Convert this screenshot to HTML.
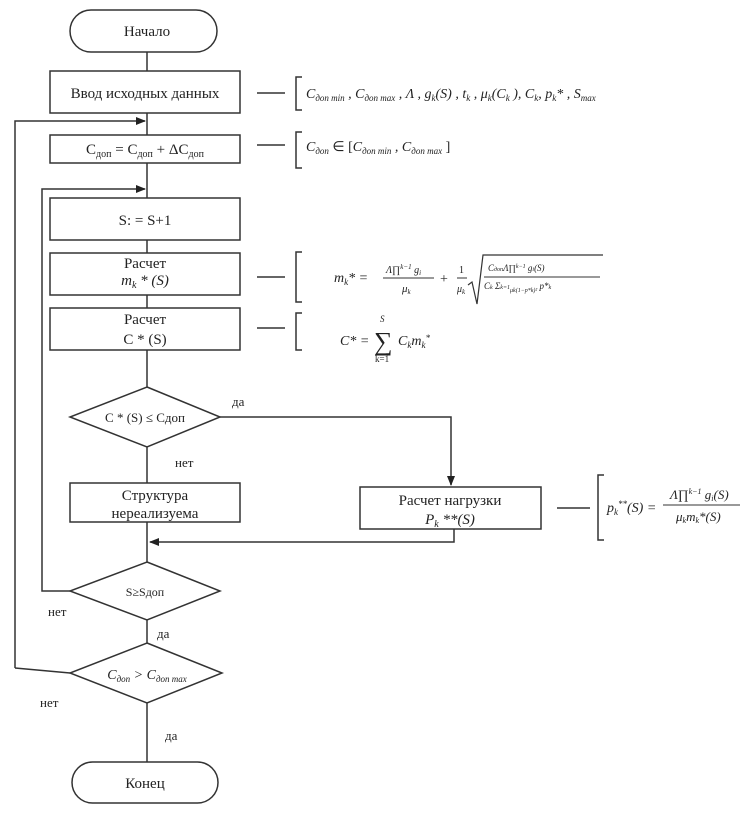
<!DOCTYPE html>
<html><head><meta charset="utf-8"><style>
body{margin:0;background:#fff}
svg text{font-family:"Liberation Serif",serif;fill:#222}
.i{font-style:italic}
</style></head><body>
<svg width="745" height="808" viewBox="0 0 745 808" xmlns="http://www.w3.org/2000/svg">
<defs><marker id="a" markerWidth="10" markerHeight="8" refX="9" refY="4" orient="auto" markerUnits="userSpaceOnUse"><path d="M0,0 L10,4 L0,8 z" fill="#222"/></marker></defs>
<g stroke="#333" stroke-width="1.5" fill="none">
<rect x="70" y="10" width="147" height="42" rx="21"/>
<line x1="147" y1="52" x2="147" y2="71"/>
<rect x="50" y="71" width="190" height="42"/>
<line x1="147" y1="113" x2="147" y2="135"/>
<polyline points="15,668 15,121 145,121" marker-end="url(#a)"/>
<rect x="50" y="135" width="190" height="28"/>
<line x1="147" y1="163" x2="147" y2="198"/>
<polyline points="70,591 42,591 42,189 145,189" marker-end="url(#a)"/>
<rect x="50" y="198" width="190" height="42"/>
<line x1="147" y1="240" x2="147" y2="253"/>
<rect x="50" y="253" width="190" height="42"/>
<line x1="147" y1="295" x2="147" y2="308"/>
<rect x="50" y="308" width="190" height="42"/>
<line x1="147" y1="350" x2="147" y2="387"/>
<polygon points="147,387 220,417 147,447 70,417"/>
<polyline points="220,417 451,417 451,485" marker-end="url(#a)"/>
<line x1="147" y1="447" x2="147" y2="483"/>
<rect x="70" y="483" width="170" height="39"/>
<rect x="360" y="487" width="181" height="42"/>
<line x1="147" y1="522" x2="147" y2="562"/>
<polyline points="454,529 454,542 150,542" marker-end="url(#a)"/>
<polygon points="147,562 220,591 147,620 70,591"/>
<line x1="147" y1="620" x2="147" y2="643"/>
<polygon points="147,643 222,673 147,703 70,673"/>
<line x1="70" y1="673" x2="15" y2="668"/>
<line x1="147" y1="703" x2="147" y2="762"/>
<rect x="72" y="762" width="146" height="41" rx="20.5"/>
<line x1="257" y1="93" x2="285" y2="93"/>
<polyline points="302,77 296,77 296,110 302,110"/>
<line x1="257" y1="145" x2="285" y2="145"/>
<polyline points="302,132 296,132 296,168 302,168"/>
<line x1="257" y1="277" x2="285" y2="277"/>
<polyline points="302,252 296,252 296,302 302,302"/>
<line x1="257" y1="328" x2="285" y2="328"/>
<polyline points="302,313 296,313 296,350 302,350"/>
<line x1="557" y1="508" x2="590" y2="508"/>
<polyline points="604,475 598,475 598,540 604,540"/>
<polyline points="468,285 472,282 477,304 483,255 603,255" stroke-width="1.2"/>
<line x1="484" y1="277" x2="600" y2="277" stroke-width="1"/>
<line x1="383" y1="278" x2="434" y2="278" stroke-width="1"/>
<line x1="457" y1="278" x2="467" y2="278" stroke-width="1"/>
<line x1="663" y1="505" x2="740" y2="505" stroke-width="1"/>
</g>
<g font-size="15" text-anchor="middle">
<text x="147" y="36">Начало</text>
<text x="145" y="98">Ввод исходных данных</text>
<text x="145" y="154">С<tspan font-size="10" dy="3">доп</tspan><tspan dy="-3"> = С</tspan><tspan font-size="10" dy="3">доп</tspan><tspan dy="-3"> + ΔС</tspan><tspan font-size="10" dy="3">доп</tspan></text>
<text x="145" y="225">S: = S+1</text>
<text x="145" y="268">Расчет</text>
<text x="145" y="285" class="i">m<tspan font-size="10" dy="3">k</tspan><tspan dy="-3"> * (S)</tspan></text>
<text x="145" y="324">Расчет</text>
<text x="145" y="344">C * (S)</text>
<text x="145" y="422" font-size="13">C * (S) ≤ Cдоп</text>
<text x="155" y="500">Структура</text>
<text x="155" y="518">нереализуема</text>
<text x="450" y="505">Расчет нагрузки</text>
<text x="450" y="524" class="i">P<tspan font-size="10" dy="3">k</tspan><tspan dy="-3"> **(S)</tspan></text>
<text x="145" y="596" font-size="12">S≥Sдоп</text>
<text x="147" y="679" font-size="14" class="i">C<tspan font-size="9" dy="3">доп</tspan><tspan dy="-3"> &gt; C</tspan><tspan font-size="9" dy="3">доп max</tspan></text>
<text x="145" y="788">Конец</text>
</g>
<g font-size="13">
<text x="232" y="406">да</text>
<text x="175" y="467">нет</text>
<text x="48" y="616">нет</text>
<text x="157" y="638">да</text>
<text x="40" y="707">нет</text>
<text x="165" y="740">да</text>
</g>
<g font-size="14" class="i">
<text x="306" y="98">C<tspan font-size="9" dy="3">доп min</tspan><tspan dy="-3"> , C</tspan><tspan font-size="9" dy="3">доп max</tspan><tspan dy="-3"> , Λ , g</tspan><tspan font-size="9" dy="3">k</tspan><tspan dy="-3">(S) , t</tspan><tspan font-size="9" dy="3">k</tspan><tspan dy="-3"> , μ</tspan><tspan font-size="9" dy="3">k</tspan><tspan dy="-3">(C</tspan><tspan font-size="9" dy="3">k</tspan><tspan dy="-3"> ), C</tspan><tspan font-size="9" dy="3">k</tspan><tspan dy="-3">, p</tspan><tspan font-size="9" dy="3">k</tspan><tspan dy="-3">* , S</tspan><tspan font-size="9" dy="3">max</tspan></text>
<text x="306" y="151">C<tspan font-size="9" dy="3">доп</tspan><tspan dy="-3" font-style="normal"> ∈ [</tspan><tspan>C</tspan><tspan font-size="9" dy="3">доп min</tspan><tspan dy="-3"> , C</tspan><tspan font-size="9" dy="3">доп max</tspan><tspan dy="-3" font-style="normal"> ]</tspan></text>
<text x="334" y="282">m<tspan font-size="9" dy="3">k</tspan><tspan dy="-3">* =</tspan></text>
<text x="386" y="273" font-size="10">Λ∏<tspan font-size="7" dy="-4">k−1</tspan><tspan dy="4"> g</tspan><tspan font-size="7" dy="2">i</tspan></text>
<text x="402" y="292" font-size="11">μ<tspan font-size="7" dy="2">k</tspan></text>
<text x="440" y="283" font-style="normal">+</text>
<text x="459" y="273" font-size="10" font-style="normal">1</text>
<text x="457" y="292" font-size="10">μ<tspan font-size="7" dy="2">k</tspan></text>
<text x="488" y="271" font-size="9">C<tspan font-size="6">доп</tspan>Λ∏<tspan font-size="6" dy="-3">k−1</tspan><tspan dy="3"> g</tspan><tspan font-size="6">i</tspan>(S)</text>
<text x="484" y="289" font-size="9">C<tspan font-size="6">k</tspan> Σ<tspan font-size="6">k=1</tspan><tspan font-size="6" dy="3">μk(1−p*k)²</tspan><tspan dy="-3"> p*</tspan><tspan font-size="6">k</tspan></text>
<text x="340" y="345">C* = </text>
<text x="374" y="350" font-size="26" font-style="normal">∑</text>
<text x="380" y="322" font-size="9">S</text>
<text x="375" y="362" font-size="9" font-style="normal">k=1</text>
<text x="398" y="345">C<tspan font-size="9" dy="3">k</tspan><tspan dy="-3">m</tspan><tspan font-size="9" dy="3">k</tspan><tspan font-size="9" dy="-7">*</tspan></text>
<text x="607" y="512">p<tspan font-size="9" dy="3">k</tspan><tspan font-size="9" dy="-8">**</tspan><tspan dy="5">(S) =</tspan></text>
<text x="670" y="499" font-size="13">Λ∏<tspan font-size="8" dy="-5">k−1</tspan><tspan dy="5"> g</tspan><tspan font-size="8" dy="2">i</tspan><tspan dy="-2">(S)</tspan></text>
<text x="676" y="521" font-size="13">μ<tspan font-size="8" dy="2">k</tspan><tspan dy="-2">m</tspan><tspan font-size="8" dy="2">k</tspan><tspan dy="-2">*(S)</tspan></text>
</g>
</svg>
</body></html>
